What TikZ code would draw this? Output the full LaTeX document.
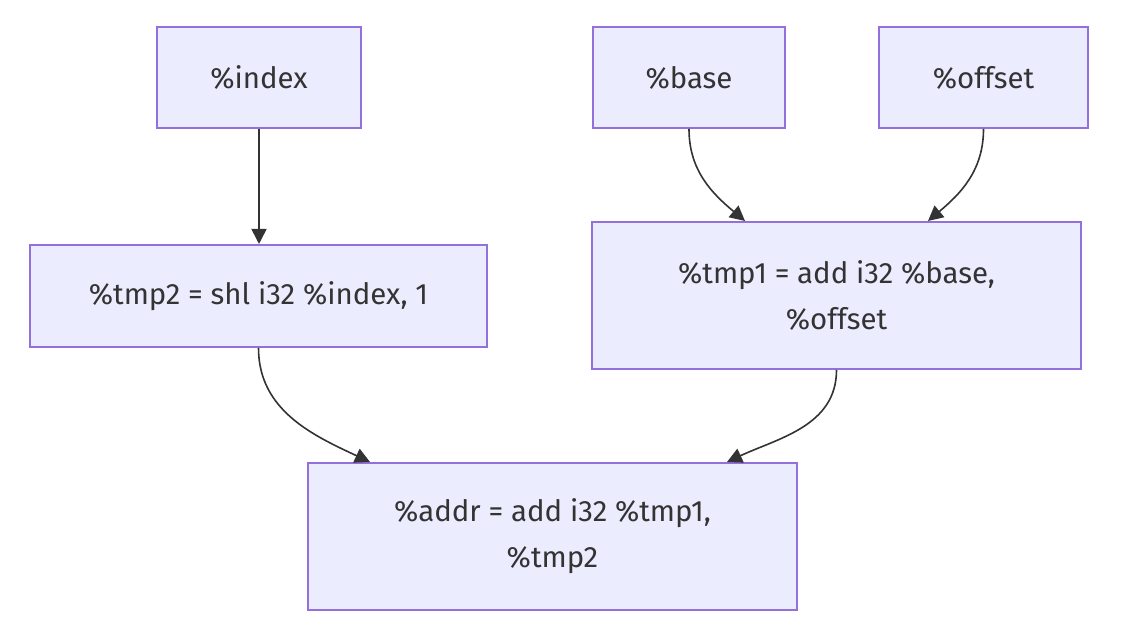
\documentclass[tikz,border=0pt]{standalone}
\usepackage{fontspec}
\setmainfont{Fira Sans}
\usetikzlibrary{arrows.meta, positioning}
\definecolor{boxfill}{HTML}{ECECFF}
\definecolor{boxline}{HTML}{9370DB}
\definecolor{arrowline}{HTML}{333333}
\tikzset{
  irbox/.style={draw=boxline, fill=boxfill, line width=1pt, align=center,
    inner sep=0pt, font=\fontsize{14.7}{23}\selectfont, text=arrowline},
  flow/.style={draw=arrowline, line width=0.8pt,
    -{Triangle[length=7.5pt,width=7.5pt]}}
}

\begin{document}
\begin{tikzpicture}[x=0.5pt, y=0.5pt]
\useasboundingbox (0,0) rectangle (1125,640);
\node (index) [irbox, minimum width=102pt, minimum height=50.5pt] at (259,562.5) {\%index};
\node (base) [irbox, minimum width=96pt, minimum height=50.5pt] at (689,562.5) {\%base};
\node (offset) [irbox, minimum width=104.5pt, minimum height=50.5pt] at (983.5,562.5) {\%offset};
\node (tmp2) [irbox, minimum width=228.5pt, minimum height=51pt] at (258.5,344) {\%tmp2 = shl i32 \%index, 1};
\node (tmp1) [irbox, minimum width=244.5pt, minimum height=73.5pt] at (836.5,344.5) {\%tmp1 = add i32 \%base,\\ \%offset};
\node (addr) [irbox, minimum width=244.5pt, minimum height=73.5pt] at (552.5,103.5) {\%addr = add i32 \%tmp1,\\ \%tmp2};

\draw[flow] (index) -- (index |- tmp2.north);
\draw[flow] (base.south) to[out=-90, in=140] ([xshift=-45.75pt]tmp1.north);
\draw[flow] (offset.south) to[out=-90, in=40] ([xshift=45.75pt]tmp1.north);
\draw[flow] (tmp2.south) to[out=-90, in=155] ([xshift=-91.25pt]addr.north);
\draw[flow] (tmp1.south) to[out=-90, in=25] ([xshift=87.25pt]addr.north);
\end{tikzpicture}
\end{document}
